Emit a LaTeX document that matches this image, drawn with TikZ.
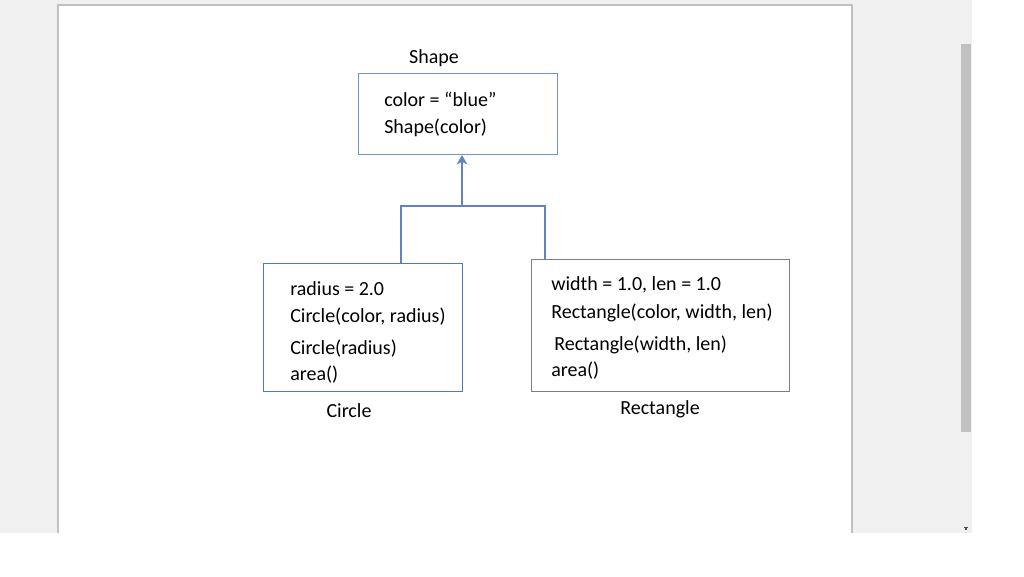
\documentclass[tikz,border=0pt]{standalone}
\usepackage{fontspec}
\setmainfont{Carlito}
\usetikzlibrary{arrows.meta}
\definecolor{bgray}{HTML}{F0F0F0}
\definecolor{pageedge}{HTML}{BFBFC6}
\definecolor{sbar}{HTML}{C1C1C1}
\definecolor{boxblue}{HTML}{4F79C0}
\definecolor{connblue}{HTML}{6383C0}
\definecolor{boxgray}{HTML}{7F7F7F}
\tikzset{
  cls/.style={draw, line width=0.8pt, inner sep=0pt, anchor=north west},
  txt/.style={anchor=west, inner sep=0pt, font=\fontsize{15}{18}\selectfont, text=black},
  lbl/.style={anchor=center, inner sep=0pt, font=\fontsize{15}{18}\selectfont, text=black},
  conn/.style={draw=connblue, line width=2.1pt},
}
\begin{document}
\begin{tikzpicture}[x=0.75pt,y=-0.75pt]
\useasboundingbox (0,0) rectangle (1024,576);
\fill[white] (0,0) rectangle (1024,576);
\fill[bgray] (0,0) rectangle (972,533);
\fill[white] (58,5) rectangle (852,533);
\draw[pageedge, line width=1pt] (58,533) -- (58,5) -- (852,5) -- (852,533);
\fill[sbar] (961,44) rectangle (971,432);
\fill[black!70] (964,527) rectangle (968,528);
\fill[black!70] (965,528) rectangle (967,529.5);

% class boxes
\node[cls, draw=boxblue!80, minimum width=149.25pt, minimum height=60.75pt] (shape) at (358,73) {};
\node[cls, draw=boxblue, minimum width=149.25pt, minimum height=96pt] (circ) at (263,263) {};
\node[cls, draw=boxgray, minimum width=193.5pt, minimum height=99pt] (rect) at (531,259) {};

% titles
\node[lbl] (tshape) at (434,58) {Shape};
\node[lbl] (tcirc) at (349,411) {Circle};
\node[lbl] (trect) at (660,409) {Rectangle};

% members
\node[txt] (s1) at (384,99) {color = “blue”};
\node[txt] (s2) at (384,128) {Shape(color)};
\node[txt] (c1) at (290,289) {radius = 2.0};
\node[txt] (c2) at (290,317) {Circle(color, radius)};
\node[txt] (c3) at (290,349) {Circle(radius)};
\node[txt] (c4) at (290,375) {area()};
\node[txt] (r1) at (551,285) {width = 1.0, len = 1.0};
\node[txt] (r2) at (551,313) {Rectangle(color, width, len)};
\node[txt] (r3) at (554,345) {Rectangle(width, len)};
\node[txt] (r4) at (551,371) {area()};

% connectors
\coordinate (cl) at (401,263);
\coordinate (rl) at (545,259);
\coordinate (j) at (462,206);
\draw[conn, line join=miter] (cl) -- (401,206) -- (545,206) -- (rl);
\draw[conn, -{Stealth[length=7pt,width=8pt,inset=2pt]}] (j) -- (shape.south -| j);
\end{tikzpicture}
\end{document}
